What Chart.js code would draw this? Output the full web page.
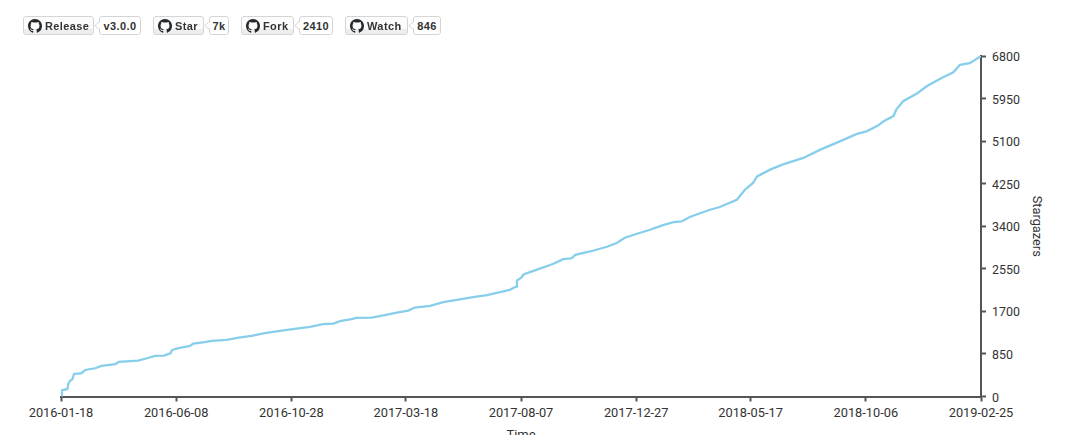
<!DOCTYPE html>
<html>
<head>
<meta charset="utf-8">
<script src="https://cdn.jsdelivr.net/npm/chart.js@4"></script>
<style>
html,body{margin:0;padding:0;background:#fff;overflow:hidden;width:1069px;height:435px}
canvas{position:absolute;left:0;top:0}
.bar{position:absolute;left:0;top:0}
.b,.c{position:absolute;top:16px;height:19px;box-sizing:border-box;border:1px solid #d5d5d5;border-radius:3px;font:bold 11px/18px "Liberation Sans",Arial,sans-serif;letter-spacing:.4px;color:#333;white-space:nowrap}
.b{background:linear-gradient(#fcfcfc 0,#fcfcfc 70%,#eee 70%,#eee 100%);padding-left:21px}
.b svg{position:absolute;left:4px;top:2px;width:14px;height:14px}
.c{background:#fff;text-align:center}
.c:before{content:"";position:absolute;left:-5px;top:5px;width:6px;height:6px;background:#fff;border-left:1px solid #d5d5d5;border-bottom:1px solid #d5d5d5;transform:rotate(45deg) scale(.8)}
</style>
</head>
<body>
<canvas id="chart" width="1069" height="460"></canvas>
<div class="bar" id="bar"></div>
<script>
const badgeNames = ["Release", "Star", "Fork", "Watch"];
const badgeCounts = ["v3.0.0", "7k", "2410", "846"];
const tickDays = [0, 142, 284, 425, 567, 709, 850, 992, 1134];
const tickLabels = ["2016-01-18", "2016-06-08", "2016-10-28", "2017-03-18", "2017-08-07", "2017-12-27", "2018-05-17", "2018-10-06", "2019-02-25"];
const days = [0,1,8,9,11,14,16,25,30,42,50,67,71,95,106,116,127,135,137,145,159,163,177,186,204,219,235,251,268,288,295,307,323,336,344,358,364,383,399,414,428,436,455,471,488,508,525,541,553,561,562,568,570,578,586,607,619,629,634,652,673,685,695,710,726,742,755,765,775,786,800,812,833,843,853,858,874,890,915,936,960,981,993,1007,1014,1026,1030,1038,1055,1067,1086,1100,1108,1120,1134];
const stars = [10,124,150,250,310,344,450,464,530,564,610,644,690,716,764,810,816,864,930,964,1010,1056,1084,1110,1130,1176,1210,1264,1304,1350,1364,1390,1444,1456,1504,1544,1570,1576,1624,1676,1716,1776,1810,1884,1930,1984,2024,2084,2130,2196,2316,2384,2436,2484,2530,2650,2744,2756,2830,2896,2990,3064,3170,3250,3330,3424,3484,3496,3584,3650,3730,3784,3930,4130,4264,4396,4530,4636,4764,4930,5096,5244,5296,5410,5496,5600,5740,5896,6050,6196,6364,6476,6624,6656,6796];
const yMax = 6800, yStep = 850;

const mark = '<svg viewBox="0 0 16 16"><path fill="#24292e" d="M8 0C3.58 0 0 3.58 0 8c0 3.54 2.29 6.53 5.47 7.59.4.07.55-.17.55-.38 0-.19-.01-.82-.01-1.49-2.01.37-2.53-.49-2.69-.94-.09-.23-.48-.94-.82-1.13-.28-.15-.68-.52-.01-.53.63-.01 1.08.58 1.23.82.72 1.21 1.87.87 2.33.66.07-.52.28-.87.51-1.07-1.78-.2-3.64-.89-3.64-3.95 0-.87.31-1.59.82-2.15-.08-.2-.36-1.02.08-2.12 0 0 .67-.21 2.2.82.64-.18 1.32-.27 2-.27.68 0 1.36.09 2 .27 1.53-1.04 2.2-.82 2.2-.82.44 1.1.16 1.92.08 2.12.51.56.82 1.27.82 2.15 0 3.07-1.87 3.75-3.65 3.95.29.25.54.73.54 1.48 0 1.07-.01 1.93-.01 2.2 0 .21.15.46.55.38A8.013 8.013 0 0016 8c0-4.42-3.58-8-8-8z"/></svg>';
const slots = [[23,71,99,42],[153,51,209,20],[241,53,299,34],[345,63,413,28]];
const bar = document.getElementById('bar');
badgeNames.forEach((n,i)=>{
  const s = slots[i];
  const b = document.createElement('div'); b.className='b';
  b.style.left=s[0]+'px'; b.style.width=s[1]+'px'; b.innerHTML=mark; b.appendChild(document.createTextNode(n));
  const c = document.createElement('div'); c.className='c';
  c.style.left=s[2]+'px'; c.style.width=s[3]+'px'; c.textContent=badgeCounts[i];
  bar.appendChild(b); bar.appendChild(c);
});

const canvas = document.getElementById('chart');
const ctx = canvas.getContext('2d',{alpha:false});
const axisColor = '#555555', textColor = '#333333';

function nudgeLabels(s, dy){
  if (s._nudged) return;
  s._nudged = true;
  const orig = s._computeLabelItems;
  s._computeLabelItems = function(ca){
    const items = orig.call(this, ca);
    items.forEach(it=>{ it.options.translation = [it.options.translation[0], it.options.translation[1] + dy]; });
    return items;
  };
}

new Chart(ctx,{
  type:'line',
  data:{datasets:[{
    data:days.map((d,i)=>({x:d,y:stars[i]})),
    borderColor:'#87ceeb',borderWidth:2.3,pointRadius:0,fill:false,tension:0
  }]},
  options:{
    responsive:false,animation:false,devicePixelRatio:1,
    layout:{padding:{left:61,top:56,right:0,bottom:0}},
    plugins:{legend:{display:false},tooltip:{enabled:false}},
    scales:{
      x:{
        type:'linear',min:0,max:1134,
        afterBuildTicks:s=>{s.ticks=tickDays.map(v=>({value:v}));},
        afterFit:s=>{s.height=63.5;},
        grid:{display:true,drawOnChartArea:false,drawTicks:true,tickLength:5,tickWidth:2,tickColor:axisColor},
        border:{display:true,color:axisColor,width:2},
        ticks:{autoSkip:false,maxRotation:0,minRotation:0,color:textColor,font:{family:'Roboto',size:12.8},padding:5,
          callback:(v)=>tickLabels[tickDays.indexOf(v)]},
        title:{display:true,text:'Time',color:textColor,font:{family:'Roboto',size:13},padding:{top:0,bottom:16}}
      },
      y:{
        position:'right',min:0,max:yMax,
        afterFit:s=>{s.width=88;nudgeLabels(s,2);},
        grid:{display:true,drawOnChartArea:false,drawTicks:true,tickLength:5,tickWidth:2,tickColor:axisColor},
        border:{display:true,color:axisColor,width:2},
        ticks:{stepSize:yStep,color:textColor,font:{family:'Roboto',size:12.4},padding:6,callback:v=>String(v)},
        title:{display:true,text:'Stargazers',color:textColor,font:{family:'Roboto',size:12.8},padding:{top:25,bottom:0}}
      }
    }
  },
  plugins:[{id:'bg',beforeDraw(c){c.ctx.save();c.ctx.fillStyle='#fff';c.ctx.fillRect(0,0,c.width,c.height);c.ctx.restore();}}]
});
</script>
</body>
</html>
